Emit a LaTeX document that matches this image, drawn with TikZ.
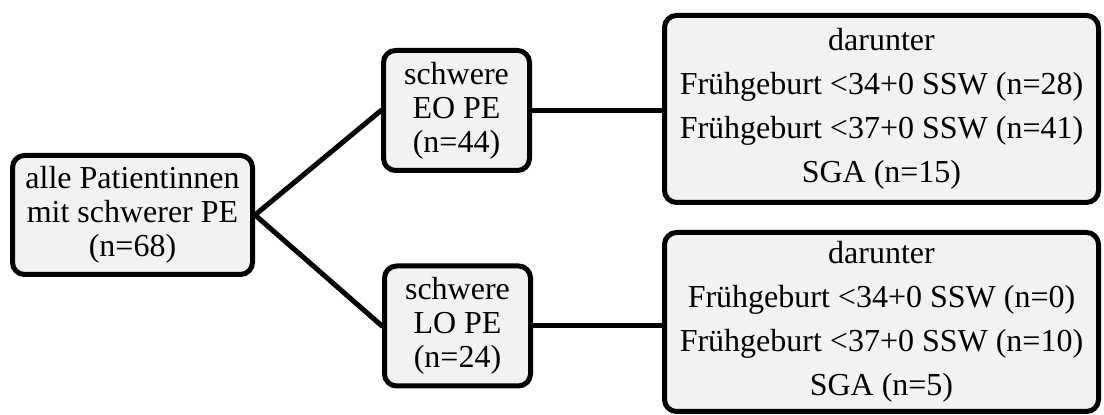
\documentclass[tikz,border=0pt]{standalone}
\usepackage{fontspec}
\setmainfont{Liberation Serif}
\definecolor{boxgray}{HTML}{F2F2F2}
\begin{document}
\begin{tikzpicture}[x=0.5pt,y=-0.5pt,line join=round,line cap=round,thick]
	\tikzset{every node/.style={font=\fontsize{16}{17}\selectfont},
		kasten/.style={draw,line width=2.5pt,fill=boxgray,rounded corners=6pt,align=center,inner sep=0pt},
		klein/.style={kasten,minimum width=73pt,minimum height=60pt},
		gross/.style={kasten,minimum width=217pt,font=\fontsize{16}{22}\selectfont},
		ast/.style={line width=2.5pt}}
	\useasboundingbox (0,0) rectangle (1104,415);
	% Gesamtkollektiv
	\node[kasten,minimum width=120pt,minimum height=59.5pt] (alle) at (132.5,215) {alle Patientinnen\\mit schwerer PE\\(n=68)};
	% Untergruppen
	\node[klein] (eo) at (456.5,110.5) {schwere\\EO PE\\(n=44)};
	\node[klein] (lo) at (457.5,326) {schwere\\LO PE\\(n=24)};
	% Ergebnisse
	\node[gross,minimum height=93.5pt] (eores) at (881.5,109) {darunter\\Frühgeburt <34+0 SSW (n=28)\\Frühgeburt <37+0 SSW (n=41)\\SGA (n=15)};
	\node[gross,minimum height=89.5pt] (lores) at (881.5,322) {darunter\\Frühgeburt <34+0 SSW (n=0)\\Frühgeburt <37+0 SSW (n=10)\\SGA (n=5)};
	% Verbindungen
	\draw[ast] (alle.east)--(eo.west);
	\draw[ast] (alle.east)--(lo.west);
	\draw[ast] (eo.east)--(eo.east -| eores.west);
	\draw[ast] (lo.east)--(lo.east -| lores.west);
\end{tikzpicture}
\end{document}
